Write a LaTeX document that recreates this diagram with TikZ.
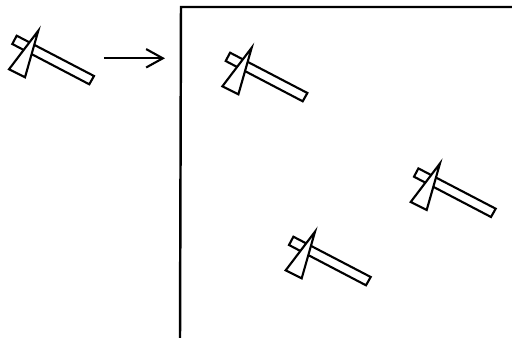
\documentclass[tikz,border=0pt]{standalone}
\usepackage{pgf, tikz}
\usetikzlibrary{arrows.meta}
\pgfdeclarelayer{edgelayer}
\pgfdeclarelayer{nodelayer}
\pgfsetlayers{edgelayer,nodelayer,main}
\tikzstyle{framing}=[draw=black, line width=1.4pt, line join=miter]
\tikzstyle{handle}=[draw=black, fill=white, line width=1.2pt, line join=miter]
\tikzstyle{blade}=[draw=black, fill=white, line width=1.2pt, line join=miter, miter limit=20]
\tikzstyle{mover}=[draw=black, line width=1.2pt, -{Straight Barb[length=9.5pt, width=10.5pt, line width=1.2pt]}]
\begin{document}
\begin{tikzpicture}[x=0.02cm, y=-0.02cm]
	\useasboundingbox (0, 0) rectangle (512, 338);
	\coordinate (framestart) at (512, 7);
	\coordinate (framecorner) at (181, 7);
	\coordinate (frameend) at (180, 338);
	\coordinate (arrowstart) at (104, 58.3);
	\coordinate (arrowend) at (165, 58.3);
	% the first hatchet stands outside the frame, the others inside
	\foreach \name/\dx/\dy in {outer/0/0, first/213.4/17, second/276.7/201, third/401.7/132.7} {
		\begin{pgfonlayer}{edgelayer}
			\coordinate (\name a) at (16.7+\dx, 35.7+\dy);
			\coordinate (\name b) at (12.3+\dx, 44+\dy);
			\coordinate (\name c) at (89.3+\dx, 84.3+\dy);
			\coordinate (\name d) at (94+\dx, 76+\dy);
			\draw [style=handle] (\name a) -- (\name b) -- (\name c) -- (\name d) -- cycle;
		\end{pgfonlayer}
		\begin{pgfonlayer}{nodelayer}
			\coordinate (\name e) at (38.3+\dx, 30.7+\dy);
			\coordinate (\name f) at (9+\dx, 69.3+\dy);
			\coordinate (\name g) at (25+\dx, 77.3+\dy);
			\draw [style=blade] (\name e) -- (\name f) -- (\name g) -- cycle;
		\end{pgfonlayer}
	}
	\draw [style=framing] (framestart) -- (framecorner) -- (frameend);
	\draw [style=mover] (arrowstart) to (arrowend);
\end{tikzpicture}
\end{document}
